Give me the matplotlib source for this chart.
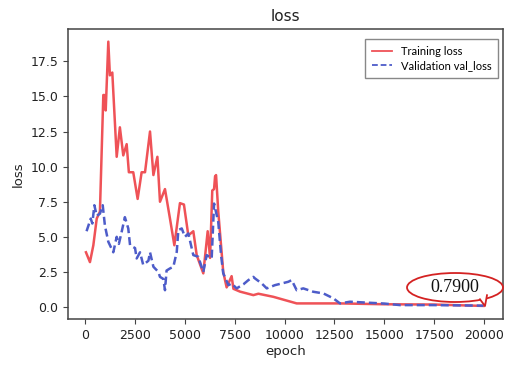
import matplotlib
matplotlib.use("Agg")
import matplotlib.pyplot as plt
from matplotlib.patches import Ellipse, Polygon
from matplotlib.lines import Line2D

# ---- data ----
epochs_train = [50, 250, 420, 590, 750, 920, 970, 1040, 1170, 1250, 1370, 1590, 1750,
                1920, 2090, 2200, 2420, 2640, 2840, 3010, 3260, 3430, 3630, 3760,
                4010, 4260, 4480, 4760, 4960, 5180, 5430, 5600, 5930, 6150, 6270,
                6380, 6470, 6520, 6570, 6680, 6930, 7100, 7350, 7440, 7770, 8440,
                8690, 9440, 10610, 12780, 15000, 17500, 19970]
train_loss = [3.9, 3.2, 4.4, 6.3, 6.8, 15.1, 15.1, 14.0, 18.9, 16.5, 16.7, 10.7, 12.8,
              10.8, 11.6, 9.6, 9.6, 7.7, 9.6, 9.6, 12.5, 9.4, 10.7, 7.5,
              8.4, 6.3, 4.4, 7.4, 7.3, 5.1, 5.4, 3.7, 2.4, 5.4, 3.5,
              8.3, 8.4, 9.3, 9.4, 6.8, 2.5, 1.4, 2.2, 1.3, 1.1, 0.85,
              0.95, 0.73, 0.26, 0.26, 0.2, 0.18, 0.08]

epochs_val = [80, 290, 370, 470, 590, 750, 890, 1000, 1170, 1420, 1590, 1700, 1840,
              2000, 2170, 2260, 2510, 2590, 2760, 2920, 3180, 3260, 3430, 3680,
              3760, 3930, 4010, 4090, 4260, 4430, 4600, 4680, 4850, 5010, 5180,
              5430, 5680, 5930, 6100, 6350, 6470, 6680, 6820, 6930, 7190, 7350,
              7600, 7940, 8190, 8440, 8520, 8860, 9110, 9520, 9860, 10190, 10360,
              10610, 10940, 11440, 11950, 12450, 12780, 13280, 15000, 15790,
              17460, 19970]
val_loss = [5.4, 6.3, 5.95, 7.25, 6.5, 6.65, 7.25, 5.8, 4.65, 3.9, 5.0, 4.5, 5.36,
            6.4, 5.6, 4.4, 4.2, 3.46, 3.9, 3.0, 3.3, 3.9, 2.87, 2.5,
            2.15, 2.0, 1.2, 2.6, 2.75, 2.87, 3.93, 5.48, 5.6, 5.0, 5.24,
            3.7, 3.58, 2.5, 3.7, 3.46, 7.37, 6.07, 3.7, 2.4, 1.56, 1.68,
            1.33, 1.62, 1.92, 2.15, 2.04, 1.68, 1.33, 1.56, 1.68, 1.8, 1.92,
            1.2, 1.33, 1.09, 0.97, 0.62, 0.26, 0.38, 0.25, 0.14,
            0.14, 0.1]

x_ticks = [0, 2500, 5000, 7500, 10000, 12500, 15000, 17500, 20000]
y_ticks = [0.0, 2.5, 5.0, 7.5, 10.0, 12.5, 15.0, 17.5]
annotation_text = "0.7900"

# ---- figure ----
fig = plt.figure(figsize=(5.05, 3.65), dpi=100)
ax = fig.add_axes([68/505, 1-319/365, 435/505, 290/365])

ax.plot(epochs_train, train_loss, color="#ef5257", lw=1.8, label="Training loss")
ax.plot(epochs_val, val_loss, color="#4d5cc9", lw=1.8, ls=(0, (3.2, 1.6)),
        label="Validation val_loss")

ax.set_xlim(-850, 20950)
ax.set_ylim(-0.85, 19.8)
ax.set_xticks(x_ticks)
ax.set_yticks(y_ticks)
ax.set_xticklabels([f"{t}" for t in x_ticks])
ax.set_yticklabels([f"{t:.1f}" for t in y_ticks])
ax.tick_params(labelsize=9, color="#444444", labelcolor="#222222")
for s in ax.spines.values():
    s.set_color("#444444")
    s.set_linewidth(1.1)

ax.set_title("loss", fontsize=11, color="#222222")
ax.set_xlabel("epoch", fontsize=9.5, color="#222222", labelpad=2)
ax.set_ylabel("loss", fontsize=9.5, color="#222222")

leg = ax.legend(loc="upper right", prop={"family": "Lato", "size": 8},
                handlelength=1.8, borderpad=0.6, labelspacing=0.3,
                fancybox=False, edgecolor="#888888", framealpha=1,
                bbox_to_anchor=(1.002, 0.985))
for h in leg.get_lines():
    h.set_linewidth(1.3)

# speech-bubble annotation
ell = Ellipse((0.8897, 0.1086), 0.2207, 0.10, transform=ax.transAxes,
              facecolor="none", edgecolor="#d42222", lw=1.3, clip_on=False, zorder=5)
ax.add_patch(ell)
gap = Polygon([(0.945, 0.072), (0.9586, 0.0448), (0.965, 0.085)], closed=True,
              transform=ax.transAxes, facecolor="white", edgecolor="none",
              clip_on=False, zorder=5.5)
ax.add_patch(gap)
ax.add_line(Line2D([0.947, 0.9586, 0.9632], [0.068, 0.0448, 0.082],
                   transform=ax.transAxes, color="#d42222", lw=1.3,
                   clip_on=False, zorder=6))
ax.text(0.8897, 0.1086, annotation_text, transform=ax.transAxes, ha="center",
        va="center", fontsize=13, family="Liberation Serif", color="#111111", zorder=7)

fig.savefig("out.png", dpi=100)
